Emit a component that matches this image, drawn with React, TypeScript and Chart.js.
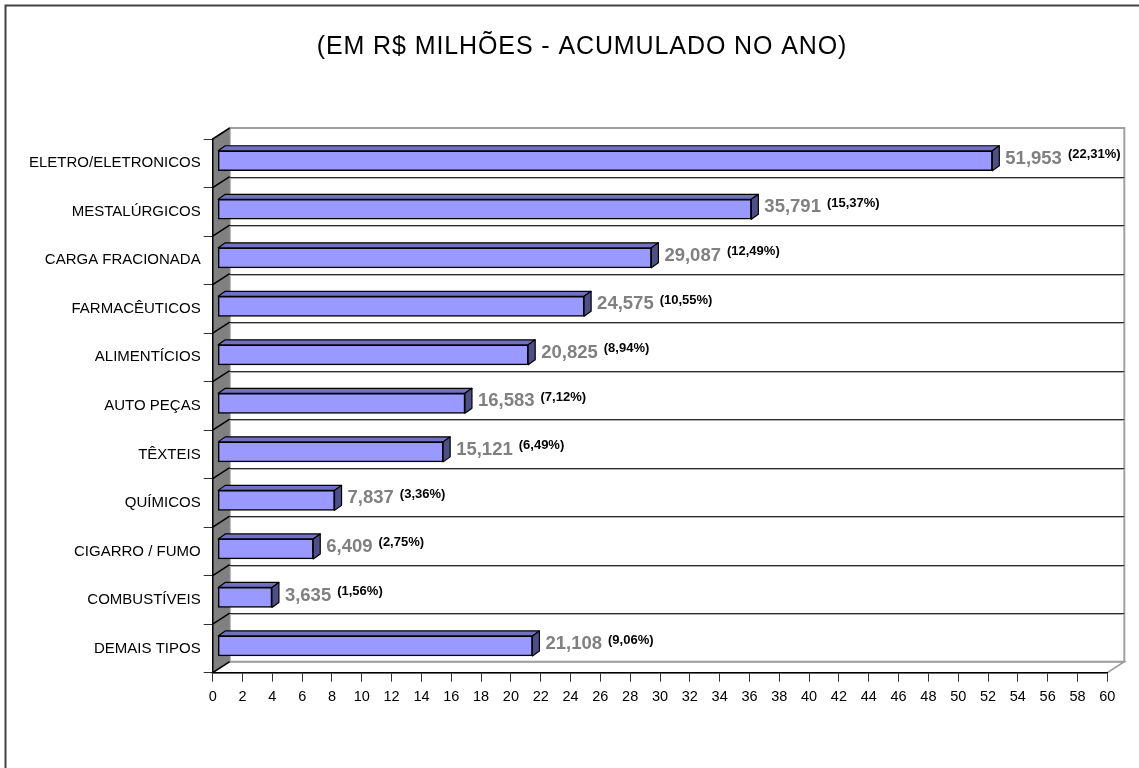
import { useEffect, useRef } from 'react';
import { Chart, registerables } from 'chart.js';

Chart.register(...registerables);

// Freight volume by cargo type (R$ millions, year to date)
const categories = [
  'ELETRO/ELETRONICOS',
  'MESTALÚRGICOS',
  'CARGA FRACIONADA',
  'FARMACÊUTICOS',
  'ALIMENTÍCIOS',
  'AUTO PEÇAS',
  'TÊXTEIS',
  'QUÍMICOS',
  'CIGARRO / FUMO',
  'COMBUSTÍVEIS',
  'DEMAIS TIPOS',
];
const values = [51.953, 35.791, 29.087, 24.575, 20.825, 16.583, 15.121, 7.837, 6.409, 3.635, 21.108];
const shares = [22.31, 15.37, 12.49, 10.55, 8.94, 7.12, 6.49, 3.36, 2.75, 1.56, 9.06];
const axisMin = 0;
const axisMax = 60;
const axisStep = 2;
const title = '(EM R$ MILHÕES - ACUMULADO NO ANO)';

const FONT = '"Liberation Sans", Arial, Helvetica, sans-serif';

// 3-D projection of the walls and of the bar boxes
const WALL_DX = 17;
const WALL_DY = -11;
const BAR_SHIFT_X = 5;
const BAR_SHIFT_Y = -2.5;
const BAR_DX = 7;
const BAR_DY = -5;

const fmt = (v: number, d: number) => v.toFixed(d).replace('.', ',');

function poly(ctx: CanvasRenderingContext2D, pts: number[][]) {
  ctx.beginPath();
  ctx.moveTo(pts[0][0], pts[0][1]);
  for (let i = 1; i < pts.length; i++) ctx.lineTo(pts[i][0], pts[i][1]);
  ctx.closePath();
}

function line(ctx: CanvasRenderingContext2D, x1: number, y1: number, x2: number, y2: number) {
  ctx.beginPath();
  ctx.moveTo(x1, y1);
  ctx.lineTo(x2, y2);
  ctx.stroke();
}

const scenePlugin = {
  id: 'scene3d',
  beforeDraw(chart: any) {
    const { ctx, chartArea: a } = chart;
    const yScale = chart.scales.y;
    ctx.save();

    ctx.fillStyle = '#ffffff';
    ctx.fillRect(0, 0, chart.width, chart.height);

    // chart frame
    ctx.strokeStyle = '#404040';
    ctx.lineWidth = 2;
    ctx.strokeRect(5.5, 5.5, chart.width + 40, chart.height + 40);

    // title
    ctx.fillStyle = '#000000';
    ctx.font = `25px ${FONT}`;
    (ctx as any).letterSpacing = '0.9px';
    ctx.textAlign = 'center';
    ctx.textBaseline = 'middle';
    ctx.fillText(title, 582, 47);
    (ctx as any).letterSpacing = '0px';

    const bl = a.left + WALL_DX;
    const br = a.right + WALL_DX;
    const bt = a.top + WALL_DY;
    const bb = a.bottom + WALL_DY;

    // floor
    poly(ctx, [[a.left, a.bottom], [a.right, a.bottom], [br, bb], [bl, bb]]);
    ctx.fillStyle = '#ffffff';
    ctx.fill();
    ctx.strokeStyle = '#9a9a9a';
    ctx.lineWidth = 1.5;
    ctx.stroke();

    // back wall
    ctx.fillStyle = '#ffffff';
    ctx.fillRect(bl, bt, br - bl, bb - bt);
    ctx.strokeStyle = '#a0a0a0';
    ctx.lineWidth = 2;
    ctx.strokeRect(bl, bt, br - bl, bb - bt);

    // side wall
    poly(ctx, [[a.left, a.top], [bl, bt], [bl, bb], [a.left, a.bottom]]);
    ctx.fillStyle = '#808080';
    ctx.fill();

    // category gridlines across the back wall and side wall
    const n = categories.length;
    for (let k = 0; k <= n; k++) {
      let b: number;
      if (k === 0) b = a.top;
      else if (k === n) b = a.bottom;
      else b = (yScale.getPixelForValue(k - 1) + yScale.getPixelForValue(k)) / 2;
      if (k > 0 && k < n) {
        const yb = Math.round(b + WALL_DY) + 0.5;
        ctx.lineWidth = 1;
        ctx.strokeStyle = '#2b2b2b';
        line(ctx, bl, yb, br, yb);
        ctx.strokeStyle = '#b0b0b0';
        line(ctx, bl, yb + 1, br, yb + 1);
      }
      ctx.strokeStyle = '#000000';
      ctx.lineWidth = 1.5;
      line(ctx, a.left, b, bl, b + WALL_DY);
    }
    ctx.restore();
  },
  beforeDatasetsDraw(chart: any) {
    chart.ctx.save();
    chart.ctx.translate(BAR_SHIFT_X, BAR_SHIFT_Y);
  },
  afterDatasetsDraw(chart: any) {
    const ctx: CanvasRenderingContext2D = chart.ctx;
    const meta = chart.getDatasetMeta(0);
    ctx.lineWidth = 1.2;
    ctx.strokeStyle = '#000000';
    ctx.lineJoin = 'round';
    meta.data.forEach((el: any) => {
      const { x, y, base, height } = el.getProps(['x', 'y', 'base', 'height'], true);
      const top = y - height / 2;
      const bot = y + height / 2;
      poly(ctx, [[base, top], [base + BAR_DX, top + BAR_DY], [x + BAR_DX, top + BAR_DY], [x, top]]);
      ctx.fillStyle = '#7171c4';
      ctx.fill();
      ctx.stroke();
      poly(ctx, [[x, top], [x + BAR_DX, top + BAR_DY], [x + BAR_DX, bot + BAR_DY], [x, bot]]);
      ctx.fillStyle = '#4f4f88';
      ctx.fill();
      ctx.stroke();
    });
    ctx.restore();

    // value and share labels
    ctx.save();
    ctx.textAlign = 'left';
    ctx.textBaseline = 'middle';
    meta.data.forEach((el: any, i: number) => {
      const { x, y } = el.getProps(['x', 'y'], true);
      const lx = x + BAR_SHIFT_X + BAR_DX + 6;
      const ly = y + BAR_SHIFT_Y - 2;
      const vText = fmt(values[i], 3);
      ctx.font = `bold 18.5px ${FONT}`;
      ctx.fillStyle = '#808080';
      ctx.fillText(vText, lx, ly);
      const w = ctx.measureText(vText).width;
      ctx.font = `bold 13px ${FONT}`;
      ctx.fillStyle = '#000000';
      ctx.fillText(`(${fmt(shares[i], 2)}%)`, lx + w + 6, ly - 4);
    });
    ctx.restore();
  },
};

export default function App() {
  const canvasRef = useRef<HTMLCanvasElement | null>(null);

  useEffect(() => {
    const canvas = canvasRef.current;
    if (!canvas) return;
    const chart = new Chart(canvas, {
      type: 'bar',
      data: {
        labels: categories,
        datasets: [
          {
            data: values,
            backgroundColor: '#9999ff',
            borderColor: '#000000',
            borderWidth: 1.5,
            borderSkipped: false,
            barThickness: 20,
          },
        ],
      },
      options: {
        indexAxis: 'y',
        responsive: false,
        animation: false,
        events: [],
        layout: { padding: { top: 139, right: 31.7, bottom: 0, left: 0 } },
        plugins: {
          legend: { display: false },
          title: { display: false },
          tooltip: { enabled: false },
        },
        scales: {
          x: {
            type: 'linear',
            min: axisMin,
            max: axisMax,
            afterFit: (s: any) => {
              s.height = 768 - 672.7;
            },
            ticks: {
              stepSize: axisStep,
              autoSkip: false,
              maxRotation: 0,
              padding: 7,
              color: '#000000',
              font: { family: FONT, size: 14.5 },
            },
            grid: { drawOnChartArea: false, drawTicks: true, tickLength: 9, color: '#333333' },
            border: { display: true, color: '#000000', width: 1.5 },
          },
          y: {
            type: 'category',
            afterFit: (s: any) => {
              s.width = 212.7;
            },
            ticks: {
              autoSkip: false,
              padding: 3,
              color: '#000000',
              font: { family: FONT, size: 15 },
            },
            grid: { drawOnChartArea: false, drawTicks: true, tickLength: 9, color: '#333333', offset: true },
            border: { display: true, color: '#000000', width: 1.5 },
          },
        },
      },
      plugins: [scenePlugin],
    });
    return () => chart.destroy();
  }, []);

  return (
    <div style={{ position: 'fixed', left: 0, top: 0, width: 1139, height: 768 }}>
      <canvas ref={canvasRef} width={1139} height={768} style={{ display: 'block' }} />
    </div>
  );
}
